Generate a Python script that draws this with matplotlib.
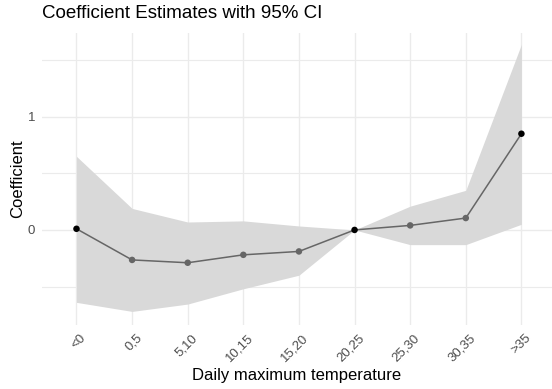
import matplotlib.pyplot as plt
import matplotlib.transforms as mtransforms
import numpy as np

plt.rcParams['font.family'] = ['Liberation Sans', 'DejaVu Sans']

# data
bins = ['<0', '0,5', '5,10', '10,15', '15,20', '20,25', '25,30', '30,35', '>35']
coef = [0.01, -0.265, -0.29, -0.22, -0.19, 0.0, 0.04, 0.105, 0.85]
lower = [-0.64, -0.72, -0.655, -0.52, -0.40, 0.0, -0.13, -0.13, 0.05]
upper = [0.65, 0.19, 0.07, 0.08, 0.035, 0.0, 0.21, 0.35, 1.64]
point_colors = ['black', '#666666', '#666666', '#666666', '#666666',
                'black', '#666666', '#666666', 'black']

fig = plt.figure(figsize=(5.52, 3.89), dpi=100)
ax = fig.add_axes([42 / 552, 1 - 325 / 389, 510 / 552, 292 / 389])

x = np.arange(len(bins))
ax.fill_between(x, lower, upper, color='#D9D9D9', linewidth=0, zorder=2)
ax.plot(x, coef, color='#666666', linewidth=1.1, zorder=3)
ax.scatter(x, coef, c=point_colors, s=22, zorder=4, linewidths=0)

ax.set_xlim(-0.62, 8.55)
ax.set_ylim(-0.84, 1.74)
ax.set_xticks(x)
ax.set_xticklabels(bins, rotation=45, ha='right', rotation_mode='anchor')
ax.set_yticks([0, 1])
ax.set_yticks([-0.5, 0.5, 1.5], minor=True)
ax.set_yticklabels(['0', '1'])

ax.grid(True, which='major', color='#EBEBEB', linewidth=1.0, zorder=0)
ax.grid(True, which='minor', axis='y', color='#EBEBEB', linewidth=0.8, zorder=0)
ax.set_axisbelow(True)
for s in ax.spines.values():
    s.set_visible(False)
ax.tick_params(which='both', length=0, labelsize=9.5, colors='#4D4D4D', pad=5)
ax.tick_params(axis='x', pad=5)

# shift rotated labels a little to the right, like ggplot
shift = mtransforms.ScaledTranslation(3.5 / 100, 0, fig.dpi_scale_trans)
for lab in ax.get_xticklabels():
    lab.set_transform(lab.get_transform() + shift)

ax.set_xlabel('Daily maximum temperature', fontsize=12, color='black', labelpad=3)
ax.set_ylabel('Coefficient', fontsize=12, color='black', labelpad=1.5)
fig.text(42 / 552, 1 - 14 / 389, 'Coefficient Estimates with 95% CI',
         fontsize=13.5, va='center', ha='left')

fig.savefig('out.png', dpi=100, facecolor='white')
